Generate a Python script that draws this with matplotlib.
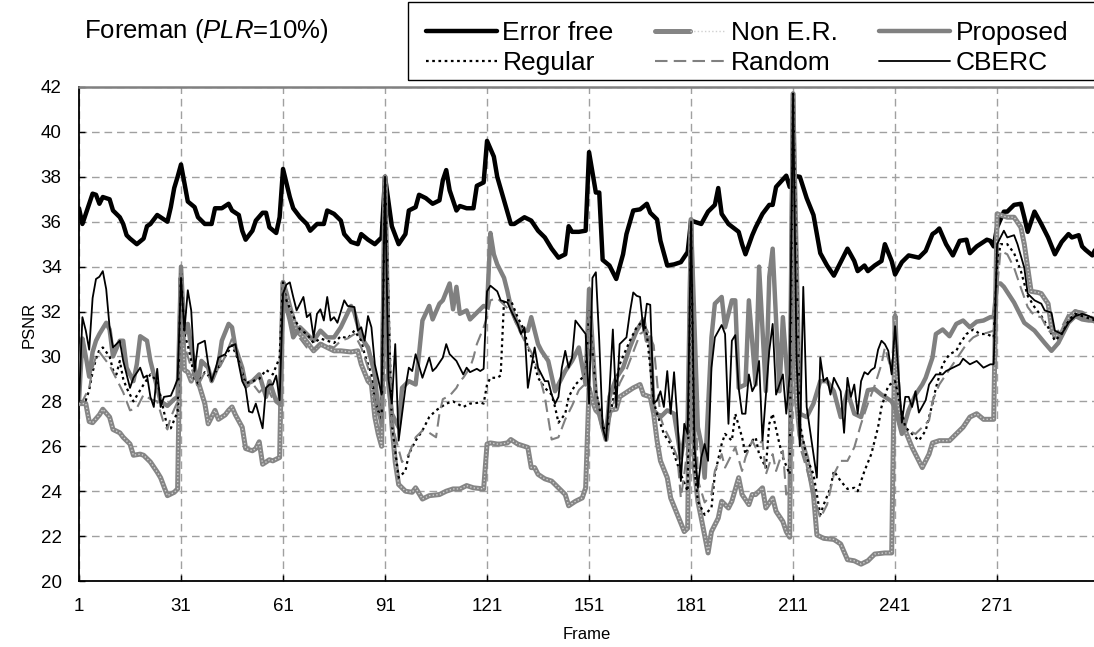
import matplotlib
matplotlib.use("Agg")
import matplotlib.pyplot as plt
from matplotlib.legend_handler import HandlerTuple
from matplotlib.patches import Rectangle

plt.rcParams['font.family'] = ['Liberation Sans', 'DejaVu Sans']
plt.rcParams['mathtext.fontset'] = 'custom'
plt.rcParams['mathtext.it'] = 'Liberation Sans:italic'
plt.rcParams['mathtext.rm'] = 'Liberation Sans'

# ---------------- data ----------------
ef_frames = [1,2,5,6,7,8,9,10,11,13,14,15,16,18,20,21,22,24,25,27,28,29,30,31,33,35,36,38,40,41,43,45,46,48,49,50,52,53,55,56,57,59,60,61,63,64,66,68,69,71,73,74,76,78,79,81,83,84,86,88,90,91,93,95,97,98,100,101,103,105,107,108,109,110,112,113,115,117,118,120,121,123,124,126,128,129,132,134,136,138,140,142,144,145,146,148,150,151,153,154,155,157,159,161,162,164,166,168,169,171,172,174,176,178,180,181,184,186,188,189,190,192,195,196,197,199,200,202,204,205,206,209,210,211,213,215,217,219,221,223,225,227,229,230,232,233,235,237,238,240,241,243,245,248,250,252,253,254,256,258,260,262,263,265,268,269,270,271,273,274,276,278,279,280,282,284,286,288,290,292,293,295,296,297,299,300]
ef_psnr = [36.6,35.9,37.25,37.2,36.8,37.1,37.05,37.0,36.5,36.2,35.9,35.4,35.25,35.0,35.25,35.8,35.9,36.3,36.2,36.0,36.65,37.5,38.0,38.55,36.9,36.65,36.2,35.9,35.9,36.6,36.6,36.8,36.5,36.3,35.6,35.2,35.6,36.05,36.4,36.4,35.75,35.5,36.2,38.35,37.1,36.6,36.2,35.9,35.6,35.9,35.9,36.5,36.35,36.05,35.45,35.1,35.0,35.45,35.2,35.0,35.3,38.0,35.8,35.0,35.45,36.5,36.65,37.2,37.05,36.8,36.95,37.85,38.3,37.4,36.5,36.7,36.6,36.6,37.6,37.75,39.6,38.9,38.0,36.95,35.9,35.9,36.2,36.05,35.6,35.3,34.8,34.4,34.55,35.8,35.55,35.55,35.6,39.1,37.3,37.3,34.3,34.05,33.45,34.55,35.45,36.5,36.55,36.8,36.4,36.1,35.15,34.05,34.1,34.2,34.65,36.05,35.9,36.45,36.75,37.5,36.35,35.9,35.55,35.0,34.55,35.4,35.75,36.35,36.75,36.75,37.55,38.05,37.55,38.05,38.0,37.05,36.3,34.6,34.05,33.6,34.2,34.8,34.25,33.8,34.05,33.8,34.05,34.25,35.0,34.25,33.65,34.2,34.5,34.4,34.7,35.45,35.55,35.7,35.0,34.5,35.15,35.2,34.6,34.9,35.2,35.15,34.9,35.75,36.45,36.45,36.75,36.8,36.2,35.55,36.45,35.9,35.3,34.55,35.1,35.45,35.3,35.4,34.9,34.75,34.5,34.8]

ne_frames = [1,3,4,5,7,8,10,11,13,14,16,17,19,20,22,24,25,26,27,29,30,31,32,33,34,35,36,38,39,41,42,44,45,46,47,49,50,52,53,54,55,57,58,60,61,62,63,65,67,70,72,74,76,78,81,83,84,86,87,88,89,90,91,92,93,94,95,97,99,100,102,104,107,109,111,113,115,117,120,121,122,124,125,127,128,130,132,133,134,135,136,138,140,142,144,145,147,149,150,151,152,153,154,156,157,159,160,162,164,166,167,169,170,171,172,174,175,177,179,180,181,182,183,184,186,187,189,190,192,193,195,196,198,199,200,202,203,205,206,208,209,210,211,212,213,215,217,218,220,223,225,227,229,231,233,235,238,240,241,242,244,246,247,249,251,252,254,257,259,261,263,265,267,270,271,272,274,276,278,279,280,281,283,284,286,287,288,290,292,294,296,298,300]
ne_psnr = [27.9,27.9,27.1,27.05,27.4,27.65,27.3,26.75,26.6,26.4,26.1,25.6,25.65,25.6,25.3,24.85,24.6,24.2,23.8,23.95,24.1,33.5,29.4,29.3,28.9,29.3,28.9,27.9,27.0,27.6,27.2,27.4,27.6,27.75,27.4,26.85,25.9,25.8,25.9,26.2,25.2,25.4,25.35,25.5,33.3,32.8,32.2,31.15,30.85,30.25,30.55,30.4,30.25,30.25,30.2,30.25,29.65,28.9,28.75,27.3,26.55,26.0,38.0,29.5,27.0,25.3,24.3,24.0,23.95,24.15,23.65,23.8,23.85,24.0,24.1,24.1,24.25,24.15,24.1,26.1,26.15,26.1,26.1,26.15,26.3,26.1,26.0,25.95,25.05,25.05,24.75,24.55,24.45,24.15,23.85,23.35,23.55,23.7,24.15,28.6,28.0,27.6,27.45,26.3,27.6,27.65,28.2,28.4,28.6,28.75,28.3,28.2,27.45,26.25,25.35,24.6,23.7,22.95,22.2,22.35,36.1,25.0,23.55,22.8,21.25,22.2,22.8,23.55,23.25,23.55,24.6,23.85,23.4,23.85,23.85,24.15,23.25,23.7,23.1,22.65,22.2,21.95,41.7,28.0,26.5,25.5,23.85,22.05,21.9,21.85,21.65,20.95,20.9,20.75,20.9,21.2,21.25,21.25,31.8,27.7,26.7,25.95,25.65,25.05,25.65,26.15,26.25,26.25,26.55,26.85,27.3,27.45,27.2,27.2,36.35,36.3,36.2,36.2,35.75,35.0,33.95,32.9,32.85,32.8,32.35,31.3,30.9,31.05,31.7,32.0,31.85,31.7,31.55]

pr_frames = [1,2,3,4,5,6,7,9,10,11,13,14,15,17,18,19,21,22,24,25,27,29,30,31,32,33,34,36,37,39,40,42,43,45,46,47,49,50,52,54,56,57,59,60,61,62,63,64,66,68,70,72,74,76,78,81,82,84,86,88,89,90,91,92,93,95,96,98,100,101,102,104,105,107,108,110,111,112,113,115,116,118,120,121,122,123,124,126,127,128,130,131,133,134,136,137,139,141,142,144,146,148,150,151,153,155,156,157,159,161,163,165,167,168,169,170,172,174,176,178,180,181,183,184,185,187,188,190,191,193,194,195,197,198,200,201,203,204,205,207,208,210,211,213,215,217,219,221,223,225,227,229,231,233,235,237,240,241,243,245,247,249,250,252,253,255,257,259,261,263,265,267,269,270,271,272,273,276,279,282,285,287,289,292,294,296,298,300]
pr_psnr = [28.0,30.8,30.0,29.1,30.2,30.7,31.0,31.5,31.2,30.0,30.7,30.7,29.5,28.9,29.65,30.9,30.7,29.8,28.6,28.0,27.8,28.1,28.2,34.0,31.0,31.45,30.4,28.75,29.8,29.5,28.9,29.65,30.7,31.45,31.3,30.4,29.5,28.75,28.9,29.2,28.2,28.9,28.0,27.9,33.3,32.2,31.6,30.85,31.3,31.0,30.7,31.15,30.85,30.85,31.3,32.25,31.95,30.85,30.4,29.2,27.6,27.15,38.0,28.75,27.45,26.85,28.6,28.9,28.75,30.1,31.6,32.25,31.65,32.35,32.5,33.25,32.1,33.1,31.9,32.05,31.65,31.95,32.25,32.2,35.5,34.55,34.1,33.5,32.9,32.2,31.45,31.15,31.15,31.75,30.55,30.25,29.8,28.45,28.75,29.35,29.8,30.4,28.75,33.0,28.2,26.85,26.4,28.2,29.05,29.5,30.4,31.15,31.65,30.7,30.85,27.6,27.3,27.6,27.45,25.5,27.15,36.0,26.85,26.1,24.6,30.85,32.35,32.65,31.3,32.5,32.5,28.6,28.75,32.5,28.75,34.0,28.45,33.55,34.8,28.45,31.75,27.7,41.7,27.45,27.3,27.9,28.9,28.9,28.45,27.3,28.45,27.45,27.3,28.5,28.55,28.3,28.0,27.7,26.55,27.6,28.3,28.75,29.05,29.95,31.0,31.2,30.9,31.45,31.6,31.3,31.55,31.6,31.75,31.75,33.25,33.25,33.1,32.4,31.5,31.15,30.6,30.25,30.6,31.5,31.8,31.65,31.6,31.6]

rg_frames = [1,3,4,5,6,7,8,10,11,12,13,14,15,17,20,22,24,25,27,28,30,31,32,33,34,35,36,38,40,42,44,46,48,50,52,54,56,58,60,61,62,64,66,68,70,72,74,76,78,80,82,84,85,87,88,90,91,93,95,97,98,100,102,104,106,109,111,114,116,119,120,121,122,124,125,126,128,130,132,133,135,136,138,140,141,142,144,145,147,149,150,151,153,155,156,158,160,163,165,167,168,170,171,172,173,175,176,178,180,181,182,183,185,187,188,190,191,193,194,196,197,199,200,201,203,204,205,207,208,210,211,213,215,217,219,220,222,223,225,227,229,230,232,234,235,236,237,239,241,244,246,248,250,252,253,255,257,259,260,262,264,266,268,270,271,272,274,276,278,280,282,284,286,288,290,292,294,296,298,300]
rg_psnr = [28.0,28.05,28.5,29.3,29.9,30.3,30.4,30.0,29.4,29.2,29.8,29.0,28.6,28.0,28.75,29.2,28.9,28.2,26.85,26.8,27.55,33.7,31.0,30.5,29.8,29.0,28.8,29.3,29.0,29.5,30.0,30.5,29.8,28.8,28.9,29.0,29.4,29.2,29.95,33.3,32.5,31.8,31.2,31.0,30.6,30.8,30.7,30.6,30.9,30.8,31.15,30.7,30.1,29.2,28.0,27.15,38.0,27.0,24.6,24.9,25.65,26.25,26.7,27.3,27.6,27.9,28.0,27.75,27.9,27.95,27.9,28.75,29.05,29.05,29.15,32.5,32.5,31.75,31.15,30.4,29.65,29.05,28.6,28.3,27.75,27.05,27.45,28.2,28.75,29.05,29.2,32.0,28.5,27.0,26.5,28.0,29.65,30.7,31.3,31.6,31.0,28.0,27.45,27.0,26.55,26.1,25.65,24.75,24.0,36.0,25.0,23.55,22.95,23.25,24.75,26.1,26.55,26.25,27.45,26.4,25.65,26.25,26.4,25.65,25.05,27.0,27.45,26.1,25.5,24.75,41.7,27.0,25.5,24.75,22.95,23.4,24.15,24.9,24.45,24.1,24.15,24.0,24.9,25.65,26.25,26.85,27.75,28.7,28.9,26.85,26.55,26.25,26.7,27.9,28.6,29.65,30.1,30.25,30.55,31.0,31.2,31.0,31.0,30.85,34.0,35.0,35.0,34.6,33.8,32.7,32.2,31.8,31.3,30.7,31.0,31.6,31.9,31.8,31.7,31.6]

rd_frames = [1,2,3,4,5,6,7,8,10,12,14,16,18,20,22,24,26,27,28,30,31,32,34,36,38,40,42,44,46,48,50,52,54,56,58,60,61,62,64,66,68,70,72,74,76,78,80,82,84,86,88,90,91,93,96,98,100,102,104,106,107,108,110,112,113,114,116,117,118,120,121,122,124,126,128,130,132,134,136,138,140,142,144,146,148,150,151,153,156,158,160,162,164,166,168,170,172,173,175,177,178,179,180,181,183,185,187,188,190,191,193,194,196,197,199,200,202,203,205,206,208,209,210,211,213,215,217,219,221,223,225,227,229,231,233,235,237,238,240,241,243,245,247,249,251,252,254,256,258,260,262,264,266,268,270,271,272,274,276,278,280,282,284,286,288,290,292,294,296,299,300]
rd_psnr = [28.0,28.0,28.3,28.6,29.5,30.0,30.2,30.0,29.6,29.0,28.4,27.6,27.7,28.3,28.1,28.0,27.0,26.75,27.3,28.0,33.8,30.5,29.5,28.7,29.3,29.0,29.4,30.0,30.8,29.8,28.6,28.8,28.4,28.7,28.1,27.8,33.3,32.0,31.3,30.8,30.4,30.3,30.6,30.5,30.4,30.7,30.8,31.0,30.4,29.5,28.0,26.8,38.0,27.0,25.3,25.65,26.4,26.7,26.6,26.4,27.45,28.1,28.25,28.6,28.9,29.05,29.5,29.95,30.55,31.3,31.75,32.5,32.6,32.3,32.0,31.3,30.7,30.2,29.4,28.2,26.3,26.4,27.2,27.8,28.5,28.8,32.0,28.0,26.5,27.8,28.8,29.4,30.2,31.0,31.2,30.5,27.3,26.85,26.25,25.5,23.7,24.75,26.0,36.0,24.5,23.5,23.85,24.9,25.65,25.05,25.65,25.95,24.9,25.5,26.25,25.95,26.25,24.75,25.65,24.9,25.8,23.85,24.15,41.7,26.0,25.0,23.85,22.8,23.4,24.75,25.35,25.35,25.95,27.0,27.9,28.7,29.65,30.4,29.35,32.0,26.85,26.7,26.55,26.85,27.15,28.0,28.75,29.2,29.65,30.1,30.55,30.85,31.0,31.05,31.15,33.0,34.7,34.55,33.95,33.05,32.2,31.8,31.75,31.15,31.0,31.3,31.9,32.05,32.0,31.75,31.7]

cb_frames = [1,2,3,4,5,6,7,8,9,10,11,13,14,16,17,19,20,21,22,23,24,25,26,28,29,30,31,32,33,34,35,36,38,39,40,41,42,44,45,47,48,49,50,51,52,53,55,56,57,58,59,60,61,62,63,64,65,67,68,69,70,71,72,73,74,75,76,77,79,80,82,83,84,85,86,87,88,90,91,92,93,94,95,97,98,99,100,102,103,104,105,106,108,109,110,112,113,114,115,116,118,119,120,121,122,124,125,127,128,130,131,132,133,135,136,138,139,140,141,142,143,144,145,146,147,149,150,151,152,153,154,155,156,157,158,159,160,161,162,163,164,165,166,167,168,169,170,171,172,173,174,175,176,177,178,179,180,181,182,183,184,185,186,187,188,190,191,192,193,194,195,196,197,198,199,200,201,202,204,205,206,207,208,209,210,211,212,213,214,215,217,218,219,220,221,222,223,225,226,227,228,229,230,231,232,233,234,235,236,237,238,239,240,241,242,243,244,245,246,247,248,250,251,253,255,256,258,260,261,263,265,267,269,270,271,273,274,276,277,279,280,282,284,285,287,288,290,292,294,296,298,300]
cb_psnr = [28.0,31.75,31.15,30.3,32.6,33.45,33.55,33.8,33.0,31.3,30.4,30.7,29.8,28.6,29.05,29.5,29.05,29.15,28.2,27.75,29.45,27.75,28.2,28.25,28.6,29.0,33.5,31.15,32.95,32.05,29.35,30.55,30.7,29.65,28.9,29.35,29.95,30.1,30.4,30.55,29.65,28.9,28.6,27.55,27.5,27.9,26.8,28.6,28.75,28.75,29.15,28.05,32.8,33.2,33.3,32.65,32.05,32.65,31.75,31.9,30.85,31.9,32.1,31.6,32.65,31.6,31.75,31.5,32.5,32.25,32.2,31.15,31.3,30.7,31.8,31.3,29.65,28.3,38.0,29.0,27.9,30.55,26.25,28.6,29.5,29.35,30.1,29.05,29.5,29.95,29.35,29.5,29.95,30.55,30.1,29.8,29.5,29.2,29.5,29.3,29.45,29.35,29.45,32.9,33.15,32.9,32.5,32.4,32.05,31.45,31.0,31.3,28.6,30.4,29.5,28.9,28.9,28.3,27.9,28.2,29.5,30.25,29.5,29.95,31.6,31.2,31.0,27.9,33.5,33.75,30.7,26.85,26.25,28.45,31.2,27.75,30.55,30.7,30.85,31.95,32.85,32.7,32.65,31.15,32.35,32.3,27.9,28.05,28.45,27.75,29.35,27.45,29.3,27.15,24.45,27.0,26.55,36.0,26.0,24.15,25.5,26.1,25.35,29.5,30.85,31.4,31.0,27.0,30.7,30.95,28.6,27.45,27.45,29.2,28.45,28.75,29.8,26.25,30.25,31.45,28.3,28.75,29.2,27.45,29.2,41.7,30.0,26.0,33.1,27.75,25.65,24.6,29.95,28.9,29.05,28.3,29.05,28.45,26.6,29.05,28.2,28.75,27.45,28.9,29.3,29.2,29.4,29.5,30.3,30.7,30.55,30.25,29.2,31.35,29.2,27.05,28.2,28.2,27.75,28.45,27.5,28.05,28.75,29.2,29.2,29.35,29.5,29.65,29.9,29.65,29.8,29.5,29.65,29.65,35.0,35.6,35.3,35.4,35.0,33.95,32.8,32.5,32.35,32.05,31.95,31.15,31.0,31.5,31.8,31.9,31.8,31.65]

series_labels = ["Error free", "Non E.R.", "Proposed", "Regular", "Random", "CBERC"]
x_ticks = [1, 31, 61, 91, 121, 151, 181, 211, 241, 271]
y_ticks = [20, 22, 24, 26, 28, 30, 32, 34, 36, 38, 40, 42]

# ---------------- figure ----------------
W, H = 1094, 647
fig = plt.figure(figsize=(W / 100, H / 100), dpi=100)
ax = fig.add_axes([79 / W, 1 - 581 / H, (W - 79) / W, (581 - 87) / H])

grey = '#808080'
kw = dict(solid_joinstyle='round', solid_capstyle='round')

l_ef, = ax.plot(ef_frames, ef_psnr, color='black', lw=3.2, zorder=3, **kw)
l_ne1, = ax.plot(ne_frames, ne_psnr, color='#858585', lw=3.6, zorder=4, **kw)
l_ne2, = ax.plot(ne_frames, ne_psnr, color='#d0d0d0', lw=1.0,
                 linestyle=(0, (1, 1.6)), zorder=4.1)
l_pr, = ax.plot(pr_frames, pr_psnr, color=grey, lw=3.2, zorder=5, **kw)
l_rg, = ax.plot(rg_frames, rg_psnr, color='black', lw=1.6,
                linestyle=(0, (1.2, 1.6)), zorder=6)
l_rd, = ax.plot(rd_frames, rd_psnr, color=grey, lw=1.5,
                linestyle=(0, (6, 3)), zorder=7)
l_cb, = ax.plot(cb_frames, cb_psnr, color='black', lw=1.3, zorder=8, **kw)

ax.set_xlim(1, 299.5)
ax.set_ylim(20, 42)
ax.set_xticks(x_ticks)
ax.set_yticks(y_ticks)
ax.tick_params(axis='both', direction='in', length=4, width=1,
               labelsize=13.5, colors='black')
ax.tick_params(axis='x', pad=12)
ax.tick_params(axis='y', pad=12.5)

ax.grid(True, color='#a0a0a0', lw=1.0, linestyle=(0, (5.5, 3.5)), zorder=0)
ax.set_axisbelow(True)

for s in ['left', 'bottom']:
    ax.spines[s].set_color('black')
    ax.spines[s].set_linewidth(1.3)
ax.spines['top'].set_color(grey)
ax.spines['top'].set_linewidth(1.8)
ax.spines['right'].set_visible(False)

ax.set_xlabel('Frame', fontsize=12, labelpad=9)
ax.set_ylabel('PSNR', fontsize=12)
ax.yaxis.set_label_coords((37 - 79) / 1015, (581 - 325) / 494)

fig.text(84 / W, 1 - 31 / H, r'Foreman ($PLR$=10%)', fontsize=18.5,
         va='center', ha='left')

handles = [l_ef, l_rg, (l_ne1, l_ne2), l_rd, l_pr, l_cb]
labels = ["Error free", "Regular", "Non E.R.", "Random", "Proposed", "CBERC"]
leg = fig.legend(handles, labels, ncol=3, loc='upper left',
                 bbox_to_anchor=(414 / W, 1 - 9 / H),
                 fontsize=19, frameon=False,
                 handlelength=2.7, handletextpad=0.2,
                 columnspacing=1.55, borderpad=0.45, labelspacing=0.25,
                 borderaxespad=0,
                 handler_map={tuple: HandlerTuple(ndivide=None, pad=0)})
fig.patches.append(Rectangle((408 / W, 1 - 80 / H), 700 / W, 78 / H,
                             transform=fig.transFigure, fill=False,
                             edgecolor='black', lw=1.0))

fig.savefig('out.png', dpi=100)
